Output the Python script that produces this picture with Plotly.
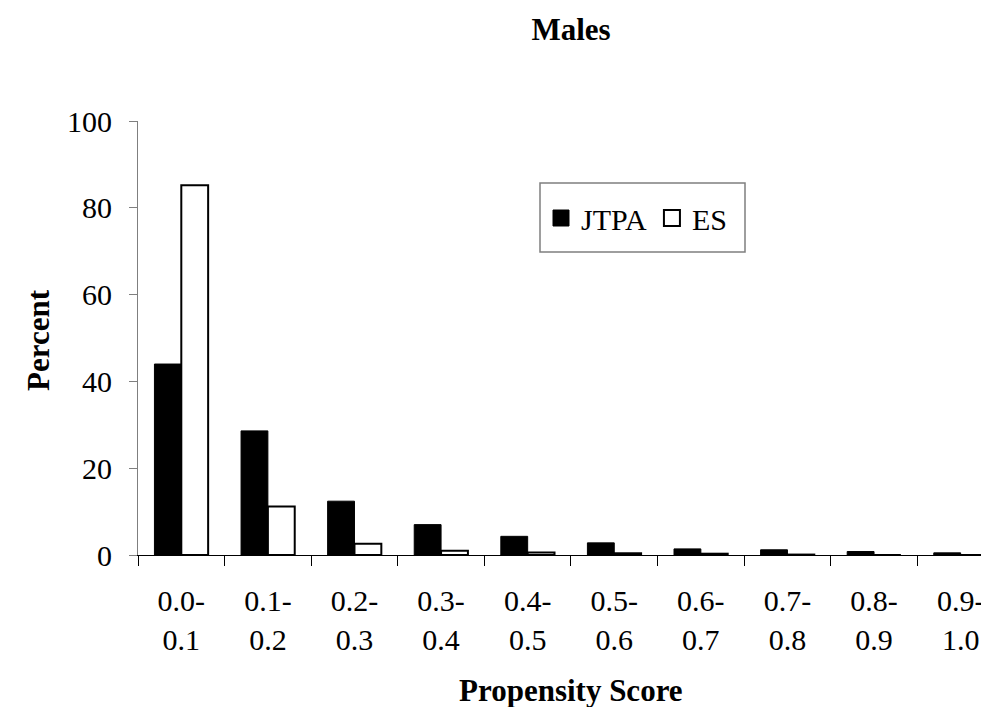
import plotly.graph_objects as go

categories = ["0.0-0.1", "0.1-0.2", "0.2-0.3", "0.3-0.4", "0.4-0.5",
              "0.5-0.6", "0.6-0.7", "0.7-0.8", "0.8-0.9", "0.9-1.0"]
jtpa = [44.0, 28.6, 12.4, 7.0, 4.3, 2.8, 1.4, 1.2, 0.8, 0.5]
es = [85.2, 11.2, 2.6, 1.0, 0.6, 0.4, 0.3, 0.1, 0.0, 0.0]
y_ticks = [0, 20, 40, 60, 80, 100]
series_names = ["JTPA", "ES"]

tick_labels = [c.replace("-", "-<br>") for c in categories]

FONT = "Liberation Serif"
W, H = 989, 707
L, R, T, B = 130, 0, 113, 160
plot_w = W - L - R
plot_h = H - T - B
TICK = 30
TITLE = 31


def px_x(x):
    return (x - L) / plot_w


def px_y(y):
    return (H - B - y) / plot_h


fig = go.Figure()
fig.add_trace(go.Bar(x=categories, y=jtpa, name=series_names[0], showlegend=False,
                     marker=dict(color="black", line=dict(color="black", width=1))))
fig.add_trace(go.Bar(x=categories, y=es, name=series_names[1], showlegend=False,
                     marker=dict(color="white", line=dict(color="black", width=2))))
# legend entries (square swatches like the original)
fig.add_trace(go.Scatter(x=[None], y=[None], mode="markers", name=series_names[0],
                         marker=dict(symbol="square", size=16, color="black",
                                     line=dict(color="black", width=1))))
fig.add_trace(go.Scatter(x=[None], y=[None], mode="markers", name=series_names[1],
                         marker=dict(symbol="square", size=16, color="white",
                                     line=dict(color="black", width=2))))

annotations = [
    dict(x=px_x(563), xref="paper", y=px_y(682), yref="paper",
         text="<b>Propensity Score</b>", showarrow=False, yanchor="middle", xanchor="center",
         font=dict(family=FONT, size=TITLE, color="black")),
    dict(x=px_x(30), xref="paper", y=px_y(332), yref="paper",
         text="<b>Percent</b>", showarrow=False, textangle=-90,
         yanchor="middle", xanchor="center",
         font=dict(family=FONT, size=TITLE, color="black")),
]

shapes = [
    dict(type="rect", xref="paper", yref="paper",
         x0=px_x(532), x1=px_x(737), y0=px_y(244), y1=px_y(175),
         line=dict(color="#7f7f7f", width=1.5), fillcolor="rgba(0,0,0,0)", layer="above"),
]

fig.update_layout(
    width=W, height=H,
    margin=dict(l=L, r=R, t=T, b=B, autoexpand=False),
    paper_bgcolor="white", plot_bgcolor="white",
    font=dict(family=FONT, size=TICK, color="black"),
    title=dict(text="<b>Males</b>", x=563 / W, xanchor="center", xref="container",
               y=1 - 21 / H, yanchor="middle", yref="container",
               font=dict(family=FONT, size=TITLE, color="black")),
    barmode="group", bargap=0.38, bargroupgap=0,
    showlegend=True,
    legend=dict(orientation="h", x=px_x(533), xanchor="left",
                y=px_y(210), yanchor="middle",
                borderwidth=0, bgcolor="rgba(0,0,0,0)",
                font=dict(family=FONT, size=TICK, color="black"),
                itemsizing="trace", itemwidth=30, traceorder="normal"),
    annotations=annotations,
    shapes=shapes,
    xaxis=dict(type="category", tickmode="array", tickvals=categories, ticktext=tick_labels,
               tickson="boundaries", ticks="outside", ticklen=10, tickcolor="black",
               showline=True, linecolor="black", linewidth=1, automargin=False,
               showgrid=False, range=[-0.5, 9.42],
               tickfont=dict(family=FONT, size=TICK, color="black"),
               ticklabelstandoff=19),
    yaxis=dict(range=[0, 100], tickvals=y_ticks, ticks="outside", ticklen=8,
               tickcolor="#7f7f7f", showline=True, linecolor="#7f7f7f", linewidth=1,
               showgrid=False, zeroline=False, automargin=False,
               tickfont=dict(family=FONT, size=TICK, color="black"),
               ticklabelstandoff=11),
)

fig.write_html("out.html")
